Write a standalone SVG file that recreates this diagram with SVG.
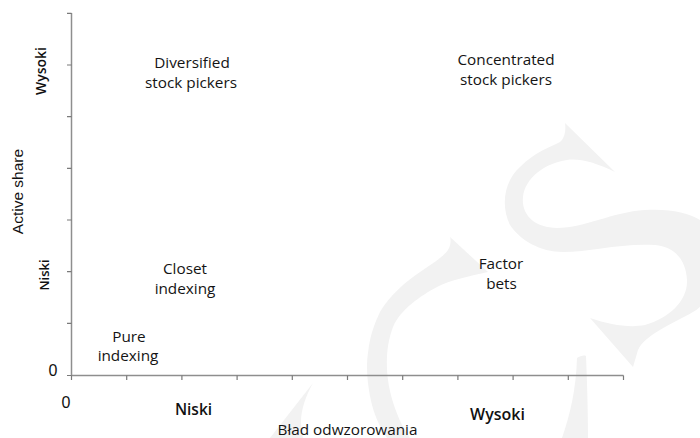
<svg xmlns="http://www.w3.org/2000/svg" width="700" height="438" viewBox="0 0 700 438">
  <style>
    .wm { fill: #f2f2f2; stroke: none; }
    .axis { stroke: #8e8e8e; stroke-width: 1.5; fill: none; }
    .tick { stroke: #7a7a7a; stroke-width: 1.2; fill: none; }
    .lbl { font-family: "Open Sans", "Liberation Sans", sans-serif; font-size: 15.3px; fill: #141414; text-anchor: middle; }
    .axl { font-family: "Open Sans", "Liberation Sans", sans-serif; font-weight: 600; fill: #111111; text-anchor: middle; }
    .ar { font-family: "Liberation Sans", Arial, sans-serif; fill: #111111; text-anchor: middle; }
  </style>
  <rect width="700" height="438" fill="#ffffff"/>
  <g id="watermark">
    <path class="wm" d="M565,123 L615,172 C595,162 578,158 567,160 C545,163 525,178 523,197 C521,215 535,228 557,228 C585,228 612,212 645,210 C675,208 700,215 708,228 C722,250 718,298 693,312 C670,325 645,335 638,350 L633,367 L590,318 C610,325 630,328 645,325 C670,318 688,300 687,280 C686,260 675,247 655,245 C620,243 590,252 563,252 C540,252 520,240 510,225 C500,205 505,180 520,167 C535,152 550,147 560,142 C565,138 566,130 565,123 Z"/>
    <path class="wm" d="M450,237 L488,272 C470,276 450,280 437,287 C420,296 400,310 393,327 C386,345 386,365 388,380 C390,395 395,410 402,425 L410,438 L387,438 C382,430 376,420 372,405 C367,385 366,365 368,353 C370,335 374,325 380,312 C390,295 405,282 423,270 C435,262 445,255 448,250 C451,245 451,240 450,237 Z"/>
    <path class="wm" d="M577,358 C580,356 584,355 586,356 C587,380 588,410 588,438 L562,438 C570,415 576,390 577,358 Z"/>
    <path class="wm" d="M313,383 C306,395 301,410 301,422 C301,428 302,433 303,438 L270,438 Z"/>
  </g>
  <g id="axes">
    <line class="axis" x1="71.5" y1="13" x2="71.5" y2="375.5"/>
    <line class="axis" x1="71" y1="375.5" x2="623.5" y2="375.5"/>
    <path class="tick" d="M67,13.3H71.5 M67,65H71.5 M67,116.7H71.5 M67,168.3H71.5 M67,220H71.5 M67,271.7H71.5 M67,323.3H71.5 M67,375.5H71.5"/>
    <path class="tick" d="M71.5,375.5V380 M126.7,375.5V380 M181.9,375.5V380 M237.1,375.5V380 M292.3,375.5V380 M347.5,375.5V380 M402.7,375.5V380 M457.9,375.5V380 M513.1,375.5V380 M568.3,375.5V380 M623.5,375.5V380"/>
  </g>
  <g id="axis-labels">
    <text class="axl" font-size="14" transform="translate(46,71) rotate(-90)">Wysoki</text>
    <text class="axl" font-size="13" transform="translate(49,275) rotate(-90)">Niski</text>
    <text class="ar" font-size="15.5" transform="translate(22.5,191.5) rotate(-90)">Active share</text>
    <text class="ar" font-size="16" x="53" y="376">0</text>
    <text class="ar" font-size="16" x="66" y="408">0</text>
    <text class="axl" font-size="15.5" x="193.5" y="415">Niski</text>
    <text class="axl" font-size="16" x="497.5" y="420">Wysoki</text>
    <text class="lbl" font-size="13.8" x="347.5" y="434.5">Bład odwzorowania</text>
  </g>
  <g id="diversified">
    <text class="lbl" x="192" y="68">Diversified</text>
    <text class="lbl" x="191" y="88">stock pickers</text>
  </g>
  <g id="concentrated">
    <text class="lbl" x="506" y="64.5">Concentrated</text>
    <text class="lbl" x="506" y="84.5">stock pickers</text>
  </g>
  <g id="closet">
    <text class="lbl" x="185" y="274">Closet</text>
    <text class="lbl" x="185" y="293.5">indexing</text>
  </g>
  <g id="factor">
    <text class="lbl" x="501" y="268.5">Factor</text>
    <text class="lbl" x="501.5" y="289">bets</text>
  </g>
  <g id="pure">
    <text class="lbl" x="129" y="341.5">Pure</text>
    <text class="lbl" x="128" y="361">indexing</text>
  </g>
</svg>
